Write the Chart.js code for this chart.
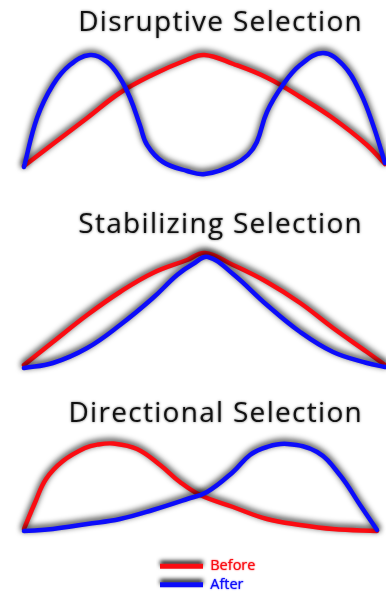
<!DOCTYPE html>
<html><head><meta charset="utf-8">
<script src="https://cdn.jsdelivr.net/npm/chart.js@4/dist/chart.umd.min.js"></script>
<style>
html,body{margin:0;padding:0;background:#fff;width:386px;height:598px;overflow:hidden;position:relative}
canvas{position:absolute;display:block}
</style></head><body>
<canvas id="c1" width="386" height="188" style="left:0;top:0"></canvas>
<canvas id="c2" width="386" height="180" style="left:0;top:202px"></canvas>
<canvas id="c3" width="386" height="154" style="left:0;top:391px"></canvas>
<canvas id="c4" width="130" height="100" style="left:156px;top:555px"></canvas>
<script>
// ---- data (trait value 0-100 on x, relative frequency on y) ----
const seriesNames = ['Before', 'After'];
const panelTitles = ['Disruptive Selection', 'Stabilizing Selection', 'Directional Selection'];

const disruptiveBeforeX = [0, 8, 17.5, 26.5, 35.5, 45, 50, 58, 67.5, 76.5, 85.5, 95, 100];
const disruptiveBeforeY = [10, 32, 58, 83, 101, 116, 121, 112, 98, 79, 58, 31, 12];
const disruptiveAfterX  = [0, 3.6, 8, 12.7, 18.3, 23, 26.6, 29.4, 32.1, 34.1, 38.5, 45.2, 50.1, 57.9, 62, 64.5, 67.3, 71.7, 76.5, 82.8, 88.4, 93.1, 96.7, 100];
const disruptiveAfterY  = [9, 58, 91, 111, 121, 114, 98, 78, 51, 31, 14, 5, 2, 11, 21, 34, 64, 91, 111, 123, 111, 84, 51, 13];

const stabilizingBeforeX = [0, 8, 17.5, 26.6, 35.7, 45.2, 50.1, 57.9, 67.3, 76.5, 85.6, 95, 100];
const stabilizingBeforeY = [5, 28, 55, 78, 97, 110, 117, 105, 88, 67, 42, 18, 5];
const stabilizingAfterX  = [0, 8, 17.5, 26.6, 35.7, 42.4, 46.8, 51, 57.9, 67.3, 76.5, 85.6, 95, 100];
const stabilizingAfterY  = [2, 7, 22, 45, 72, 95, 106, 113, 96, 65, 38, 18, 7, 3];

const directionalBeforeX = [0, 3, 6.1, 10.8, 16.9, 20.5, 24.7, 31.3, 37.7, 43.2, 48.8, 57.9, 67.3, 76.5, 85.6, 97.8];
const directionalBeforeY = [4, 30, 54, 72, 85, 88.5, 89.5, 84, 68, 51, 38, 26, 14, 8, 4, 2];
const directionalAfterX  = [0, 8, 17.5, 26.6, 35.7, 45.2, 50.7, 57.9, 62.6, 67.3, 72.9, 81.2, 87.5, 93.1, 97.8];
const directionalAfterY  = [2, 4, 9, 14, 23, 34, 41, 61, 78, 86, 89, 81, 58, 28, 3];

const yMaxes = [124, 116, 90];

// ---- styling ----
const RED = 'rgb(250,12,18)';
const BLUE = 'rgb(12,12,250)';
const FONT = '"Open Sans", Lato, sans-serif';

const pts = (xs, ys) => xs.map((x, i) => ({x: x, y: ys[i]}));

const glow = {
  id: 'glow',
  afterLayout(chart) {
    const t = chart.titleBlock;
    if (t) t.right = chart.width - 23;
  },
  beforeDraw(chart) {
    const c = chart.ctx; c.save();
    c.shadowColor = 'rgba(0,0,0,0.6)'; c.shadowBlur = 2.5;
    c.letterSpacing = '1.3px';
  },
  beforeDatasetsDraw(chart) {
    const c = chart.ctx; c.save();
    c.letterSpacing = '0px';
    c.shadowColor = 'rgba(0,0,0,0.95)'; c.shadowBlur = 6; c.shadowOffsetY = -2;
  },
  afterDatasetsDraw(chart) { chart.ctx.restore(); },
  afterDraw(chart) { chart.ctx.restore(); }
};

function panel(id, title, bx, by, ax, ay, ymax) {
  new Chart(document.getElementById(id), {
    type: 'line',
    data: {
      datasets: [
        {label: seriesNames[0], data: pts(bx, by), borderColor: RED, order: 2},
        {label: seriesNames[1], data: pts(ax, ay), borderColor: BLUE, order: 1}
      ]
    },
    options: {
      responsive: false, animation: false, events: [],
      layout: {padding: {left: 24, right: 1, top: 0, bottom: 12}},
      datasets: {line: {borderWidth: 4.5, pointRadius: 0, tension: 0.4, clip: false, fill: false, borderCapStyle: 'round', borderJoinStyle: 'round'}},
      scales: {
        x: {type: 'linear', min: 0, max: 100, display: false},
        y: {min: 0, max: ymax, display: false}
      },
      plugins: {
        legend: {display: false}, tooltip: {enabled: false},
        title: {display: true, text: title, align: 'end', color: '#121212',
                font: {family: FONT, size: 28, weight: 'normal', lineHeight: 1.25},
                padding: {top: 6, bottom: 11}}
      }
    },
    plugins: [glow]
  });
}

panel('c1', panelTitles[0], disruptiveBeforeX, disruptiveBeforeY, disruptiveAfterX, disruptiveAfterY, yMaxes[0]);
panel('c2', panelTitles[1], stabilizingBeforeX, stabilizingBeforeY, stabilizingAfterX, stabilizingAfterY, yMaxes[1]);
panel('c3', panelTitles[2], directionalBeforeX, directionalBeforeY, directionalAfterX, directionalAfterY, yMaxes[2]);

// ---- legend ----
const legendGlow = {
  id: 'legendGlow',
  beforeDraw(chart) {
    const c = chart.ctx; c.save();
    c.shadowColor = 'rgba(0,0,0,0.9)'; c.shadowBlur = 4; c.shadowOffsetY = -3;
    if (!c._origFillText) {
      c._origFillText = c.fillText;
      c.fillText = function() {
        this.save();
        this.shadowColor = this.fillStyle; this.shadowBlur = 1.5; this.shadowOffsetY = 0;
        this._origFillText.apply(this, arguments);
        this.restore();
      };
    }
  },
  afterDraw(chart) { chart.ctx.restore(); }
};

new Chart(document.getElementById('c4'), {
  type: 'line',
  data: {datasets: [
    {label: seriesNames[0], data: [], borderColor: RED, backgroundColor: RED},
    {label: seriesNames[1], data: [], borderColor: BLUE, backgroundColor: BLUE}
  ]},
  options: {
    responsive: false, animation: false, events: [],
    layout: {padding: 0},
    scales: {x: {display: false}, y: {display: false}},
    plugins: {
      tooltip: {enabled: false},
      legend: {
        display: true, position: 'top', align: 'start',
        labels: {
          boxWidth: 43, boxHeight: 5, padding: 4,
          font: {family: FONT, size: 14.5},
          generateLabels: (chart) => chart.data.datasets.map((ds, i) => ({
            text: ds.label, fillStyle: ds.borderColor, strokeStyle: ds.borderColor,
            lineWidth: 0, fontColor: ds.borderColor, hidden: false, datasetIndex: i
          }))
        }
      }
    }
  },
  plugins: [legendGlow]
});
</script>
</body></html>
